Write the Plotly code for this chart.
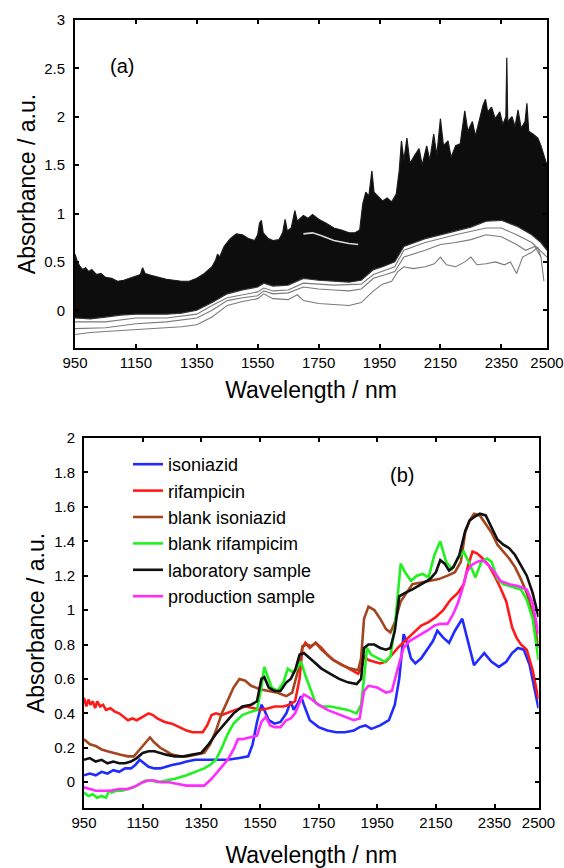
import plotly.graph_objects as go

# ---------------- panel (a): NIR spectra of all samples ----------------
band_up_wl = [950, 958, 965, 975, 985, 995, 1005, 1020, 1035, 1050, 1070, 1090, 1110, 1130, 1150, 1165, 1172,
              1180, 1200, 1225, 1250, 1275, 1300, 1325, 1350, 1375, 1400, 1412, 1418, 1425, 1440, 1460, 1480,
              1500, 1520, 1540, 1550, 1556, 1562, 1568, 1585, 1600, 1620, 1632, 1640, 1647, 1660, 1672, 1680,
              1700, 1715, 1730, 1750, 1775, 1800, 1825, 1850, 1870, 1885, 1895, 1905, 1915, 1925, 1932, 1945,
              1960, 1975, 1990, 2005, 2015, 2022, 2030, 2040, 2050, 2065, 2080, 2090, 2105, 2115, 2128, 2138,
              2150, 2160, 2175, 2185, 2200, 2215, 2230, 2240, 2255, 2265, 2280, 2290, 2298, 2305, 2318, 2330,
              2345, 2355, 2365, 2368, 2371, 2385, 2395, 2405, 2415, 2428, 2434, 2440, 2455, 2470, 2480, 2490, 2500]
band_up = [0.58, 0.50, 0.46, 0.42, 0.44, 0.40, 0.42, 0.37, 0.38, 0.34, 0.33, 0.30, 0.31, 0.33, 0.35, 0.37, 0.44,
           0.38, 0.36, 0.34, 0.32, 0.31, 0.30, 0.30, 0.33, 0.38, 0.45, 0.52, 0.58, 0.55, 0.66, 0.74, 0.79,
           0.78, 0.74, 0.72, 0.78, 0.90, 0.93, 0.80, 0.74, 0.72, 0.73, 0.80, 0.94, 0.82, 0.85, 1.03, 0.92,
           0.98, 0.95, 0.99, 0.94, 0.90, 0.85, 0.83, 0.80, 0.80, 0.83, 1.10, 1.22, 1.18, 1.44, 1.22, 1.18,
           1.13, 1.16, 1.12, 1.20, 1.45, 1.75, 1.55, 1.78, 1.52, 1.60, 1.67, 1.50, 1.70, 1.55, 1.82, 1.60,
           1.98, 1.70, 1.75, 1.58, 1.70, 1.72, 2.06, 1.85, 1.95, 1.80, 2.00, 2.12, 2.18, 2.05, 2.10, 1.98,
           2.05, 1.92, 2.00, 2.61, 1.95, 2.00, 1.90, 2.07, 1.88, 1.95, 2.14, 1.85, 1.82, 1.78, 1.70, 1.60, 1.50]

band_low_wl = [950, 1000, 1050, 1100, 1150, 1200, 1250, 1300, 1350, 1400, 1450, 1500, 1550, 1570, 1600, 1650,
               1700, 1750, 1800, 1850, 1890, 1930, 1960, 2000, 2030, 2100, 2150, 2200, 2250, 2300, 2350, 2400,
               2450, 2480, 2500]
band_low = [-0.08, -0.09, -0.07, -0.05, -0.04, -0.04, -0.04, -0.03, 0.00, 0.08, 0.17, 0.21, 0.24, 0.28, 0.25, 0.26,
            0.33, 0.31, 0.30, 0.29, 0.31, 0.42, 0.45, 0.50, 0.66, 0.74, 0.78, 0.82, 0.86, 0.92, 0.93, 0.87,
            0.78, 0.70, 0.62]

low1_wl = [950, 1000, 1050, 1100, 1150, 1200, 1250, 1300, 1350, 1400, 1450, 1500, 1550, 1570, 1600, 1650, 1680,
           1700, 1750, 1800, 1850, 1890, 1930, 1960, 1990, 2010, 2030, 2060, 2100, 2130, 2150, 2170, 2200, 2230,
           2250, 2270, 2300, 2330, 2360, 2380, 2400, 2420, 2450, 2470, 2480, 2490]
low1 = [-0.25, -0.23, -0.22, -0.21, -0.20, -0.19, -0.18, -0.17, -0.15, -0.07, 0.05, 0.09, 0.12, 0.17, 0.12, 0.11, 0.16,
        0.10, 0.07, 0.06, 0.05, 0.08, 0.20, 0.27, 0.30, 0.40, 0.45, 0.43, 0.45, 0.48, 0.55, 0.47, 0.45, 0.50,
        0.55, 0.47, 0.48, 0.50, 0.47, 0.50, 0.38, 0.55, 0.60, 0.65, 0.55, 0.30]

low2_wl = [950, 1050, 1150, 1250, 1350, 1400, 1450, 1500, 1550, 1570, 1600, 1650, 1700, 1750, 1800, 1850, 1890,
           1930, 1960, 2000, 2030, 2100, 2150, 2200, 2250, 2300, 2350, 2400, 2430, 2460, 2480]
low2 = [-0.19, -0.18, -0.14, -0.12, -0.08, 0.00, 0.10, 0.13, 0.15, 0.20, 0.17, 0.18, 0.24, 0.22, 0.21, 0.20, 0.22,
        0.33, 0.36, 0.40, 0.55, 0.62, 0.68, 0.70, 0.73, 0.78, 0.76, 0.68, 0.62, 0.66, 0.55]

low3_wl = [950, 1050, 1150, 1250, 1350, 1400, 1450, 1500, 1550, 1570, 1600, 1650, 1700, 1800, 1890, 1930, 2000,
           2030, 2100, 2200, 2300, 2350, 2400, 2450, 2500]
low3 = [-0.12, -0.12, -0.08, -0.08, -0.04, 0.05, 0.13, 0.16, 0.19, 0.23, 0.20, 0.21, 0.28, 0.26, 0.27, 0.37, 0.45,
        0.62, 0.70, 0.78, 0.85, 0.85, 0.78, 0.70, 0.55]

streak_wl = [1700, 1730, 1760, 1800, 1850, 1880]
streak = [0.79, 0.80, 0.77, 0.72, 0.69, 0.68]

# ---------------- panel (b): reference spectra ----------------
iso_wl = [950, 970, 990, 1010, 1030, 1050, 1070, 1090, 1110, 1125, 1140, 1155, 1170, 1190, 1210, 1230, 1250, 1280,
          1300, 1330, 1360, 1400, 1440, 1480, 1510, 1525, 1540, 1555, 1565, 1580, 1600, 1620, 1640, 1655, 1665,
          1680, 1690, 1700, 1720, 1750, 1780, 1810, 1840, 1870, 1890, 1910, 1930, 1960, 1990, 2010, 2025, 2040,
          2050, 2065, 2080, 2100, 2120, 2140, 2155, 2175, 2195, 2215, 2240, 2260, 2280, 2300, 2315, 2340, 2365,
          2390, 2410, 2430, 2450, 2470, 2490, 2500]
iso_val = [0.04, 0.05, 0.04, 0.06, 0.05, 0.07, 0.06, 0.08, 0.08, 0.10, 0.13, 0.11, 0.09, 0.08, 0.08, 0.09, 0.10, 0.11,
           0.12, 0.13, 0.13, 0.13, 0.13, 0.14, 0.15, 0.22, 0.35, 0.45, 0.42, 0.36, 0.34, 0.35, 0.40, 0.47, 0.42,
           0.46, 0.50, 0.45, 0.36, 0.32, 0.30, 0.29, 0.29, 0.30, 0.32, 0.33, 0.31, 0.33, 0.36, 0.45, 0.60, 0.86,
           0.82, 0.72, 0.69, 0.72, 0.77, 0.82, 0.88, 0.84, 0.81, 0.88, 0.95, 0.82, 0.68, 0.72, 0.75, 0.70, 0.67,
           0.70, 0.75, 0.78, 0.77, 0.68, 0.52, 0.43]

rif_wl = [950, 958, 965, 972, 980, 988, 995, 1005, 1015, 1025, 1040, 1055, 1070, 1085, 1100, 1115, 1130, 1150, 1170,
          1185, 1200, 1225, 1250, 1275, 1300, 1320, 1340, 1355, 1370, 1385, 1400, 1420, 1450, 1480, 1500, 1530, 1550,
          1580, 1600, 1630, 1650, 1670, 1685, 1695, 1705, 1720, 1740, 1760, 1780, 1800, 1830, 1860, 1885, 1895, 1905,
          1920, 1940, 1960, 1980, 2000, 2020, 2050, 2080, 2100, 2125, 2150, 2175, 2200, 2225, 2245, 2260, 2275, 2290,
          2310, 2330, 2350, 2370, 2390, 2410, 2425, 2440, 2460, 2480, 2500]
rif_val = [0.49, 0.44, 0.48, 0.45, 0.47, 0.43, 0.47, 0.44, 0.45, 0.42, 0.43, 0.41, 0.40, 0.38, 0.36, 0.37, 0.36, 0.38,
           0.40, 0.39, 0.37, 0.35, 0.34, 0.32, 0.30, 0.29, 0.29, 0.29, 0.33, 0.39, 0.40, 0.39, 0.41, 0.43, 0.44, 0.43,
           0.42, 0.43, 0.44, 0.44, 0.45, 0.47, 0.60, 0.78, 0.81, 0.78, 0.81, 0.78, 0.74, 0.71, 0.68, 0.65, 0.63, 0.66,
           0.73, 0.71, 0.70, 0.69, 0.70, 0.74, 0.78, 0.83, 0.88, 0.91, 0.93, 0.96, 1.00, 1.06, 1.10, 1.15, 1.26, 1.34,
           1.33, 1.30, 1.26, 1.20, 1.13, 1.05, 0.90, 0.84, 0.80, 0.77, 0.65, 0.48]

biso_wl = [950, 970, 990, 1010, 1030, 1050, 1075, 1100, 1120, 1140, 1160, 1175, 1190, 1210, 1230, 1250, 1280, 1300,
           1330, 1360, 1380, 1400, 1420, 1440, 1460, 1480, 1500, 1520, 1550, 1580, 1610, 1640, 1660, 1680, 1695, 1710,
           1725, 1740, 1760, 1780, 1800, 1830, 1860, 1885, 1895, 1905, 1920, 1940, 1960, 1980, 1995, 2010, 2030, 2050,
           2070, 2100, 2130, 2160, 2190, 2215, 2235, 2250, 2265, 2280, 2300, 2320, 2340, 2360, 2380, 2400, 2420, 2440,
           2460, 2480, 2500]
biso_val = [0.25, 0.22, 0.21, 0.19, 0.18, 0.17, 0.16, 0.15, 0.15, 0.19, 0.23, 0.26, 0.23, 0.20, 0.18, 0.16, 0.15, 0.15,
            0.16, 0.17, 0.22, 0.30, 0.40, 0.48, 0.55, 0.60, 0.59, 0.56, 0.54, 0.53, 0.52, 0.50, 0.52, 0.65, 0.79, 0.80,
            0.79, 0.81, 0.77, 0.74, 0.71, 0.68, 0.66, 0.65, 0.72, 0.95, 1.02, 1.00, 0.95, 0.89, 0.87, 0.93, 1.05, 1.10,
            1.15, 1.16, 1.17, 1.18, 1.20, 1.22, 1.28, 1.45, 1.52, 1.56, 1.55, 1.50, 1.45, 1.38, 1.34, 1.30, 1.25, 1.18,
            1.10, 0.98, 0.78]

brif_wl = [950, 965, 980, 995, 1010, 1025, 1035, 1045, 1060, 1080, 1100, 1120, 1140, 1160, 1180, 1200, 1230, 1260,
           1300, 1330, 1360, 1380, 1400, 1420, 1440, 1460, 1490, 1520, 1540, 1555, 1565, 1575, 1590, 1610, 1630, 1645,
           1660, 1675, 1690, 1705, 1720, 1740, 1760, 1790, 1820, 1850, 1880, 1895, 1905, 1915, 1930, 1950, 1975, 1995,
           2010, 2030, 2045, 2065, 2085, 2105, 2125, 2145, 2165, 2185, 2205, 2225, 2245, 2265, 2285, 2305, 2325, 2340,
           2360, 2380, 2400, 2420, 2440, 2460, 2480, 2500]
brif_val = [-0.06, -0.08, -0.07, -0.09, -0.08, -0.09, -0.05, -0.06, -0.05, -0.05, -0.04, -0.03, -0.01, 0.01, 0.01, 0.00,
            0.01, 0.02, 0.04, 0.06, 0.08, 0.10, 0.13, 0.20, 0.28, 0.34, 0.39, 0.41, 0.42, 0.55, 0.67, 0.62, 0.55, 0.53,
            0.58, 0.66, 0.64, 0.66, 0.70, 0.62, 0.55, 0.46, 0.44, 0.44, 0.43, 0.42, 0.40, 0.45, 0.60, 0.78, 0.74, 0.72,
            0.70, 0.73, 0.90, 1.27, 1.22, 1.17, 1.20, 1.21, 1.19, 1.32, 1.40, 1.28, 1.24, 1.30, 1.34, 1.27, 1.19, 1.28,
            1.30, 1.28, 1.18, 1.15, 1.14, 1.13, 1.12, 1.06, 0.95, 0.71]

lab_wl = [950, 970, 990, 1010, 1030, 1050, 1070, 1090, 1110, 1130, 1150, 1170, 1190, 1210, 1230, 1260, 1290, 1320,
          1350, 1375, 1400, 1430, 1460, 1490, 1520, 1540, 1555, 1565, 1580, 1600, 1620, 1640, 1655, 1670, 1685, 1700,
          1720, 1740, 1760, 1790, 1820, 1850, 1880, 1895, 1905, 1920, 1940, 1960, 1980, 1995, 2010, 2025, 2045, 2070,
          2100, 2130, 2150, 2165, 2180, 2195, 2210, 2230, 2250, 2265, 2280, 2300, 2320, 2340, 2360, 2380, 2400, 2420,
          2440, 2460, 2480, 2500]
lab_val = [0.13, 0.14, 0.12, 0.13, 0.11, 0.12, 0.11, 0.11, 0.12, 0.14, 0.17, 0.18, 0.18, 0.17, 0.16, 0.15, 0.15, 0.16,
           0.17, 0.22, 0.28, 0.34, 0.40, 0.44, 0.45, 0.47, 0.60, 0.61, 0.55, 0.53, 0.53, 0.58, 0.60, 0.65, 0.74, 0.75,
           0.72, 0.69, 0.66, 0.63, 0.60, 0.58, 0.57, 0.60, 0.78, 0.80, 0.80, 0.78, 0.77, 0.78, 0.88, 1.08, 1.10, 1.12,
           1.15, 1.18, 1.22, 1.29, 1.27, 1.23, 1.25, 1.32, 1.46, 1.52, 1.54, 1.56, 1.55, 1.48, 1.41, 1.38, 1.36, 1.32,
           1.26, 1.20, 1.10, 0.96]

prod_wl = [950, 970, 990, 1010, 1040, 1070, 1100, 1130, 1150, 1170, 1190, 1210, 1240, 1270, 1300, 1330, 1360, 1385,
           1410, 1440, 1460, 1475, 1490, 1520, 1540, 1555, 1570, 1585, 1600, 1620, 1640, 1655, 1670, 1690, 1700, 1720,
           1750, 1780, 1810, 1840, 1870, 1890, 1905, 1920, 1950, 1980, 2000, 2020, 2040, 2060, 2090, 2120, 2145, 2165,
           2190, 2210, 2225, 2240, 2255, 2270, 2290, 2310, 2330, 2350, 2370, 2400, 2430, 2460, 2480, 2500]
prod_val = [-0.03, -0.04, -0.05, -0.05, -0.05, -0.04, -0.04, -0.02, 0.00, 0.01, 0.01, 0.00, 0.00, -0.01, -0.02, -0.02,
            -0.02, 0.02, 0.07, 0.13, 0.19, 0.25, 0.25, 0.26, 0.27, 0.35, 0.38, 0.33, 0.32, 0.32, 0.36, 0.37, 0.40, 0.48,
            0.51, 0.49, 0.45, 0.42, 0.40, 0.38, 0.36, 0.37, 0.53, 0.56, 0.55, 0.52, 0.53, 0.66, 0.78, 0.82, 0.85, 0.88,
            0.91, 0.92, 0.92, 0.98, 1.04, 1.12, 1.22, 1.26, 1.28, 1.29, 1.26, 1.22, 1.17, 1.15, 1.14, 1.12, 1.04, 0.86]

series_names = ["isoniazid", "rifampicin", "blank isoniazid", "blank rifampicim",
                "laboratory sample", "production sample"]
series_colors = ["#1f2bff", "#ff1a1a", "#a3461f", "#1ff21f", "#111111", "#ff2bff"]

x_ticks = [950, 1150, 1350, 1550, 1750, 1950, 2150, 2350, 2500]
ya_ticks = [0, 0.5, 1, 1.5, 2, 2.5, 3]
ya_labels = ["0", "0.5", "1", "1.5", "2", "2.5", "3"]
yb_ticks = [0, 0.2, 0.4, 0.6, 0.8, 1, 1.2, 1.4, 1.6, 1.8, 2]
yb_labels = ["0", "0.2", "0.4", "0.6", "0.8", "1", "1.2", "1.4", "1.6", "1.8", "2"]

FONT = "Liberation Sans, Arial, Helvetica, sans-serif"

fig = go.Figure()

# panel (a)
fig.add_trace(go.Scatter(x=band_low_wl, y=band_low, mode="lines", xaxis="x", yaxis="y",
                         line=dict(color="#333333", width=1.2), showlegend=False, hoverinfo="skip"))
fig.add_trace(go.Scatter(x=band_up_wl, y=band_up, mode="lines", xaxis="x", yaxis="y", fill="tonexty",
                         fillcolor="#0d0d0d", line=dict(color="#1a1a1a", width=1.2),
                         showlegend=False, hoverinfo="skip"))
for gx, gy in [(low3_wl, low3), (low2_wl, low2), (low1_wl, low1)]:
    fig.add_trace(go.Scatter(x=gx, y=gy, mode="lines", xaxis="x", yaxis="y",
                             line=dict(color="#7a7a7a", width=1.1), showlegend=False, hoverinfo="skip"))
fig.add_trace(go.Scatter(x=streak_wl, y=streak, mode="lines", xaxis="x", yaxis="y",
                         line=dict(color="rgba(255,255,255,0.85)", width=1.6), showlegend=False, hoverinfo="skip"))

# panel (b)
for name, color, wx, wy in zip(series_names, series_colors,
                               [iso_wl, rif_wl, biso_wl, brif_wl, lab_wl, prod_wl],
                               [iso_val, rif_val, biso_val, brif_val, lab_val, prod_val]):
    fig.add_trace(go.Scatter(x=wx, y=wy, mode="lines", name=name, xaxis="x2", yaxis="y2",
                             line=dict(color=color, width=2.6)))

axis_common = dict(showline=True, linecolor="black", linewidth=2, mirror="ticks", ticks="inside",
                   ticklen=4, tickwidth=2, tickcolor="black", showgrid=False, zeroline=False,
                   automargin=False, tickfont=dict(family=FONT, size=15, color="black"))

W, H = 564, 868
fig.update_layout(
    width=W, height=H, margin=dict(l=0, r=0, t=0, b=0),
    paper_bgcolor="white", plot_bgcolor="white",
    font=dict(family=FONT, color="black"),
    xaxis=dict(axis_common, domain=[75 / W, 547 / W], range=[950, 2500], anchor="y",
               tickvals=x_ticks, ticktext=[str(v) for v in x_ticks],
               title=dict(text="Wavelength / nm", font=dict(family=FONT, size=23), standoff=12)),
    yaxis=dict(axis_common, domain=[(H - 348) / H, (H - 20) / H], range=[-0.39, 3], anchor="x",
               tickvals=ya_ticks, ticktext=ya_labels, ticklabelstandoff=5,
               title=dict(text="Absorbance / a.u.", font=dict(family=FONT, size=23), standoff=2)),
    xaxis2=dict(axis_common, domain=[84 / W, 538.5 / W], range=[950, 2500], anchor="y2",
                tickvals=x_ticks, ticktext=[str(v) for v in x_ticks],
                title=dict(text="Wavelength / nm", font=dict(family=FONT, size=23), standoff=22)),
    yaxis2=dict(axis_common, domain=[(H - 808) / H, (H - 438) / H], range=[-0.15, 2], anchor="x2",
                tickvals=yb_ticks, ticktext=yb_labels, ticklabelstandoff=4,
                title=dict(text="Absorbance / a.u.", font=dict(family=FONT, size=23), standoff=3)),
    legend=dict(x=128 / W, y=(H - 446) / H, xanchor="left", yanchor="top", bgcolor="rgba(0,0,0,0)",
                traceorder="normal",
                font=dict(family=FONT, size=18, color="black"), tracegroupgap=0),
    annotations=[
        dict(text="(a)", x=1103, y=2.52, xref="x", yref="y", showarrow=False,
             font=dict(family=FONT, size=20, color="black")),
        dict(text="(b)", x=2034, y=1.785, xref="x2", yref="y2", showarrow=False,
             font=dict(family=FONT, size=20, color="black")),
    ],
)

fig.write_html("out.html", config={"displayModeBar": False},
               post_script="document.body.style.margin='0';")
